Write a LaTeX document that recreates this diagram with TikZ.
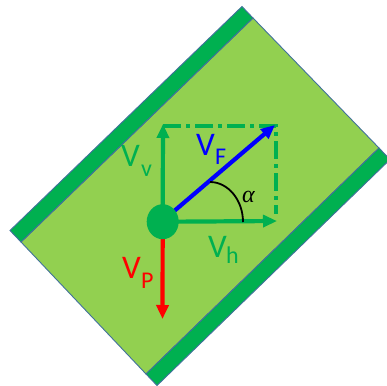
\documentclass[tikz,border=0pt]{standalone}
\usepackage{fontspec}
\setmainfont{Carlito}
\newfontfamily\greekfont{Liberation Serif}
\usetikzlibrary{arrows.meta,shapes.geometric}
\definecolor{lg}{HTML}{92D050}
\definecolor{dg}{HTML}{00B050}
\definecolor{ol}{HTML}{41719C}
\begin{document}
\begin{tikzpicture}[x=1pt,y=-1pt,
  plate/.style={draw=ol,line width=0.9pt,line join=miter},
  vec/.style={line width=4.2pt,-{Triangle[length=14pt,width=12pt]}},
  lbl/.style={anchor=base west,inner sep=0pt,font=\fontsize{33}{33}\selectfont},
  sublbl/.style={anchor=base west,inner sep=0pt,font=\fontsize{24}{24}\selectfont}]
\clip (0,0) rectangle (387,385);
\fill[white] (0,0) rectangle (387,385);
% plate
\draw[plate,fill=lg] (21,242) -- (253,18) -- (379,148) -- (146,374) -- cycle;
\draw[plate,fill=dg] (10,230.5) -- (242,6.5) -- (253,18) -- (21,242) -- cycle;
\draw[plate,fill=dg] (146,374) -- (379,148) -- (390,159.5) -- (157,385.5) -- cycle;
% coordinates
\coordinate (c) at (162.7,221.7);
\coordinate (vtip) at (163,124);
\coordinate (htip) at (277,221);
\coordinate (ftip) at (275,125);
\coordinate (ptip) at (162.5,319);
\coordinate (fstart) at (166,218);
\coordinate (d1) at (163,126);
\coordinate (d2) at (276,126);
\coordinate (d3) at (276,214);
\coordinate (a1) at (210,182);
\coordinate (a2) at (243,222);
% dash-dot guides
\draw[dg,line width=3.5pt,dash pattern=on 18pt off 5pt on 4pt off 5pt] (d1) -- (d2) -- (d3);
% vectors
\draw[vec,dg] (c |- 0,210) -- (vtip);
\draw[vec,dg] (c -| 170,0) -- (htip);
\draw[vec,red] (c) -- (ptip);
\draw[vec,blue] (fstart) -- (ftip);
% angle arc
\draw[black,line width=1.8pt] (a1) .. controls (228,182) and (243,200) .. (a2);
% body
\node[ellipse,fill=dg,minimum width=32pt,minimum height=35pt,inner sep=0pt] (m) at (c) {};
% labels
\node[lbl,text=dg] (vv) at (121,166) {V};
\node[sublbl,text=dg] (vvs) at (141,176) {v};
\node[lbl,text=blue] (vf) at (196,155) {V};
\node[sublbl,text=blue] (vfs) at (215,164) {F};
\node[lbl,text=dg] (vh) at (208,257) {V};
\node[sublbl,text=dg] (vhs) at (226,263) {h};
\node[lbl,text=red] (vp) at (122,278) {V};
\node[sublbl,text=red] (vps) at (141,288) {P};
\node[anchor=base west,inner sep=0pt,font=\greekfont\itshape\fontsize{24}{24}\selectfont] (al) at (242,202) {α};
\end{tikzpicture}
\end{document}
